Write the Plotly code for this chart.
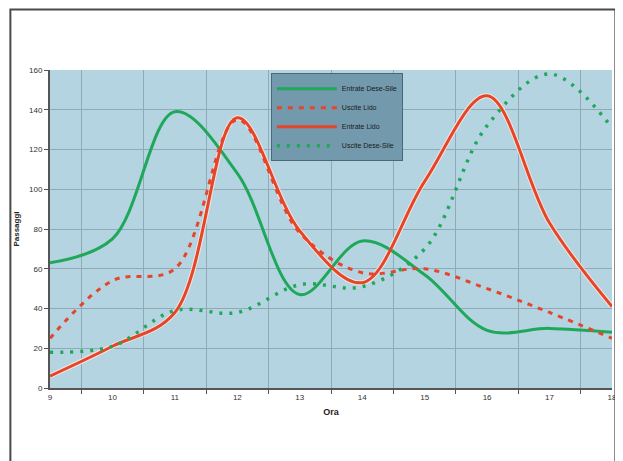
import plotly.graph_objects as go

ore = ["9", "10", "11", "12", "13", "14", "15", "16", "17", "18"]
entrate_dese_sile = [63, 75, 139, 108, 47, 74, 57, 29, 30, 28]
uscite_lido = [25, 54, 60, 135, 78, 58, 60, 50, 38, 25]
entrate_lido = [6, 21, 38, 136, 79, 53, 104, 147, 83, 41]
uscite_dese_sile = [18, 21, 39, 38, 52, 51, 70, 132, 158, 131]

GREEN = "#1fa85a"
RED = "#e5452b"

fig = go.Figure()
# light halo under the solid red line
fig.add_trace(go.Scatter(x=ore, y=entrate_lido, mode="lines", showlegend=False, hoverinfo="skip",
                         line=dict(color="#f4e6dc", width=5, shape="spline", smoothing=1)))

fig.add_trace(go.Scatter(x=ore, y=entrate_dese_sile, name="Entrate Dese-Sile", mode="lines",
                         line=dict(color=GREEN, width=3, shape="spline", smoothing=1)))
fig.add_trace(go.Scatter(x=ore, y=uscite_lido, name="Uscite Lido", mode="lines",
                         line=dict(color=RED, width=3, dash="5px,6px", shape="spline", smoothing=1)))
fig.add_trace(go.Scatter(x=ore, y=entrate_lido, name="Entrate Lido", mode="lines",
                         line=dict(color=RED, width=3, shape="spline", smoothing=1)))
fig.add_trace(go.Scatter(x=ore, y=uscite_dese_sile, name="Uscite Dese-Sile", mode="lines",
                         line=dict(color=GREEN, width=3.5, dash="3px,7px", shape="spline", smoothing=1)))

fig.update_layout(
    width=615, height=453,
    margin=dict(l=42, r=6, t=62, b=73),
    paper_bgcolor="white",
    plot_bgcolor="#b4d4e2",
    font=dict(family="Liberation Sans, Arial, sans-serif", size=8, color="#333333"),
    legend=dict(x=0.393, y=0.99, xanchor="left", yanchor="top",
                bgcolor="#7399ac", bordercolor="#4a6878", borderwidth=1,
                font=dict(size=7, color="#1a1a1a"), tracegroupgap=0,
                itemwidth=60),
    shapes=[dict(type="rect", xref="paper", yref="paper",
                 x0=-0.0705, x1=1.006, y0=-0.4, y1=1.19,
                 line=dict(color="#4a4a4a", width=2), fillcolor="rgba(0,0,0,0)", layer="below")],
)

fig.update_xaxes(
    type="category", tickson="boundaries", ticks="outside", ticklen=4,
    tickcolor="#555555", showgrid=True, gridcolor="#8fa9b6", gridwidth=1,
    showline=True, linecolor="#555555", linewidth=2,
    title=dict(text="<b>Ora</b>", font=dict(size=9, color="#222222"), standoff=8),
    tickfont=dict(size=8, color="#333333"),
)
fig.update_yaxes(
    range=[0, 160], dtick=20, ticks="outside", ticklen=4, tickcolor="#555555",
    showgrid=True, gridcolor="#8fa9b6", gridwidth=1,
    showline=True, linecolor="#555555", linewidth=2, zeroline=False,
    title=dict(text="<b>Passaggi</b>", font=dict(size=8, color="#222222"), standoff=8),
    tickfont=dict(size=8, color="#333333"),
)

fig.write_html("out.html")
